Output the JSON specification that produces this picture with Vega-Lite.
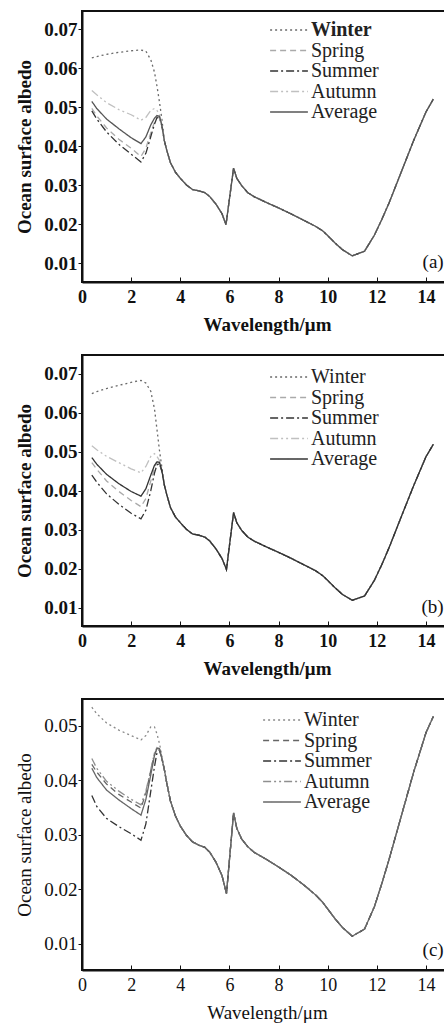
{
  "$schema": "https://vega.github.io/schema/vega-lite/v6.json",
  "padding": {"left": 14, "top": 10, "right": 0, "bottom": 0},
  "background": "white",
  "spacing": 19,
  "config": {
    "font": "Liberation Serif",
    "view": {"stroke": "#111", "strokeWidth": 2},
    "text": {"font": "Liberation Serif"},
    "axis": {"grid": false, "domainColor": "#111", "domainWidth": 2, "tickColor": "#111", "labelColor": "#111", "titleColor": "#111", "labelFont": "Liberation Serif", "titleFont": "Liberation Serif"},
    "axisX": {"tickSize": -5, "labelPadding": 11, "labelFlush": false, "labelFontSize": 18, "titleFontSize": 19, "titlePadding": 9},
    "axisY": {"tickSize": 4, "labelPadding": 1, "labelFontSize": 19, "titleFontSize": 19, "titlePadding": 9},
    "legend": {"labelFont": "Liberation Serif", "labelFontSize": 20, "labelColor": "#222", "symbolType": "M-2.1,0H2.1", "symbolSize": 324, "symbolStrokeWidth": 1.5, "rowPadding": 0.5, "labelOffset": 12}
  },
  "resolve": {"scale": {"x": "independent", "y": "independent", "color": "independent", "strokeDash": "independent"}, "legend": {"color": "independent", "strokeDash": "independent"}},
  "datasets": {
    "a": [
      {"x": 0.4, "Winter": 0.0627, "Spring": 0.0497, "Summer": 0.0491, "Autumn": 0.0543, "Average": 0.0515},
      {"x": 0.6, "Winter": 0.0630, "Spring": 0.0478, "Summer": 0.0470, "Autumn": 0.0532, "Average": 0.0497},
      {"x": 1.0, "Winter": 0.0636, "Spring": 0.0447, "Summer": 0.0437, "Autumn": 0.0512, "Average": 0.0470},
      {"x": 1.5, "Winter": 0.0641, "Spring": 0.0418, "Summer": 0.0405, "Autumn": 0.0494, "Average": 0.0445},
      {"x": 2.0, "Winter": 0.0645, "Spring": 0.0395, "Summer": 0.0380, "Autumn": 0.0481, "Average": 0.0422},
      {"x": 2.4, "Winter": 0.0647, "Spring": 0.0374, "Summer": 0.0360, "Autumn": 0.0467, "Average": 0.0407},
      {"x": 2.6, "Winter": 0.0644, "Spring": 0.0395, "Summer": 0.0382, "Autumn": 0.0474, "Average": 0.0424},
      {"x": 2.8, "Winter": 0.0622, "Spring": 0.0435, "Summer": 0.0425, "Autumn": 0.0492, "Average": 0.0455},
      {"x": 2.95, "Winter": 0.0590, "Spring": 0.0462, "Summer": 0.0457, "Autumn": 0.0497, "Average": 0.0472},
      {"x": 3.05, "Winter": 0.0555, "Spring": 0.0476, "Summer": 0.0473, "Autumn": 0.0492, "Average": 0.0479},
      {"x": 3.15, "Winter": 0.0515, "Spring": 0.0475, "Summer": 0.0474, "Autumn": 0.0482, "Average": 0.0477},
      {"x": 3.25, "Winter": 0.0470, "Spring": 0.0452, "Summer": 0.0452, "Autumn": 0.0458, "Average": 0.0455},
      {"x": 3.35, "Winter": 0.0415, "Spring": 0.0415, "Summer": 0.0415, "Autumn": 0.0415, "Average": 0.0415},
      {"x": 3.45, "Winter": 0.0390, "Spring": 0.0390, "Summer": 0.0390, "Autumn": 0.0390, "Average": 0.0390},
      {"x": 3.6, "Winter": 0.0358, "Spring": 0.0358, "Summer": 0.0358, "Autumn": 0.0358, "Average": 0.0358},
      {"x": 3.8, "Winter": 0.0334, "Spring": 0.0334, "Summer": 0.0334, "Autumn": 0.0334, "Average": 0.0334},
      {"x": 4.0, "Winter": 0.0318, "Spring": 0.0318, "Summer": 0.0318, "Autumn": 0.0318, "Average": 0.0318},
      {"x": 4.25, "Winter": 0.0301, "Spring": 0.0301, "Summer": 0.0301, "Autumn": 0.0301, "Average": 0.0301},
      {"x": 4.5, "Winter": 0.0289, "Spring": 0.0289, "Summer": 0.0289, "Autumn": 0.0289, "Average": 0.0289},
      {"x": 4.75, "Winter": 0.0286, "Spring": 0.0286, "Summer": 0.0286, "Autumn": 0.0286, "Average": 0.0286},
      {"x": 5.0, "Winter": 0.0281, "Spring": 0.0281, "Summer": 0.0281, "Autumn": 0.0281, "Average": 0.0281},
      {"x": 5.2, "Winter": 0.0271, "Spring": 0.0271, "Summer": 0.0271, "Autumn": 0.0271, "Average": 0.0271},
      {"x": 5.45, "Winter": 0.0252, "Spring": 0.0252, "Summer": 0.0252, "Autumn": 0.0252, "Average": 0.0252},
      {"x": 5.7, "Winter": 0.0227, "Spring": 0.0227, "Summer": 0.0227, "Autumn": 0.0227, "Average": 0.0227},
      {"x": 5.86, "Winter": 0.0199, "Spring": 0.0199, "Summer": 0.0199, "Autumn": 0.0199, "Average": 0.0199},
      {"x": 6.17, "Winter": 0.0344, "Spring": 0.0344, "Summer": 0.0344, "Autumn": 0.0344, "Average": 0.0344},
      {"x": 6.3, "Winter": 0.0318, "Spring": 0.0318, "Summer": 0.0318, "Autumn": 0.0318, "Average": 0.0318},
      {"x": 6.5, "Winter": 0.0299, "Spring": 0.0299, "Summer": 0.0299, "Autumn": 0.0299, "Average": 0.0299},
      {"x": 6.75, "Winter": 0.0281, "Spring": 0.0281, "Summer": 0.0281, "Autumn": 0.0281, "Average": 0.0281},
      {"x": 7.0, "Winter": 0.0271, "Spring": 0.0271, "Summer": 0.0271, "Autumn": 0.0271, "Average": 0.0271},
      {"x": 7.5, "Winter": 0.0256, "Spring": 0.0256, "Summer": 0.0256, "Autumn": 0.0256, "Average": 0.0256},
      {"x": 8.0, "Winter": 0.0242, "Spring": 0.0242, "Summer": 0.0242, "Autumn": 0.0242, "Average": 0.0242},
      {"x": 8.5, "Winter": 0.0227, "Spring": 0.0227, "Summer": 0.0227, "Autumn": 0.0227, "Average": 0.0227},
      {"x": 9.0, "Winter": 0.0211, "Spring": 0.0211, "Summer": 0.0211, "Autumn": 0.0211, "Average": 0.0211},
      {"x": 9.5, "Winter": 0.0195, "Spring": 0.0195, "Summer": 0.0195, "Autumn": 0.0195, "Average": 0.0195},
      {"x": 9.8, "Winter": 0.0183, "Spring": 0.0183, "Summer": 0.0183, "Autumn": 0.0183, "Average": 0.0183},
      {"x": 10.0, "Winter": 0.0171, "Spring": 0.0171, "Summer": 0.0171, "Autumn": 0.0171, "Average": 0.0171},
      {"x": 10.3, "Winter": 0.0152, "Spring": 0.0152, "Summer": 0.0152, "Autumn": 0.0152, "Average": 0.0152},
      {"x": 10.6, "Winter": 0.0135, "Spring": 0.0135, "Summer": 0.0135, "Autumn": 0.0135, "Average": 0.0135},
      {"x": 11.0, "Winter": 0.0119, "Spring": 0.0119, "Summer": 0.0119, "Autumn": 0.0119, "Average": 0.0119},
      {"x": 11.5, "Winter": 0.0131, "Spring": 0.0131, "Summer": 0.0131, "Autumn": 0.0131, "Average": 0.0131},
      {"x": 11.9, "Winter": 0.0172, "Spring": 0.0172, "Summer": 0.0172, "Autumn": 0.0172, "Average": 0.0172},
      {"x": 12.2, "Winter": 0.0212, "Spring": 0.0212, "Summer": 0.0212, "Autumn": 0.0212, "Average": 0.0212},
      {"x": 12.5, "Winter": 0.0255, "Spring": 0.0255, "Summer": 0.0255, "Autumn": 0.0255, "Average": 0.0255},
      {"x": 13.0, "Winter": 0.0335, "Spring": 0.0335, "Summer": 0.0335, "Autumn": 0.0335, "Average": 0.0335},
      {"x": 13.5, "Winter": 0.0415, "Spring": 0.0415, "Summer": 0.0415, "Autumn": 0.0415, "Average": 0.0415},
      {"x": 14.0, "Winter": 0.0488, "Spring": 0.0488, "Summer": 0.0488, "Autumn": 0.0488, "Average": 0.0488},
      {"x": 14.3, "Winter": 0.0521, "Spring": 0.0521, "Summer": 0.0521, "Autumn": 0.0521, "Average": 0.0521}
    ],
    "b": [
      {"x": 0.4, "Winter": 0.0649, "Spring": 0.0472, "Summer": 0.0440, "Autumn": 0.0515, "Average": 0.0485},
      {"x": 0.6, "Winter": 0.0654, "Spring": 0.0455, "Summer": 0.0422, "Autumn": 0.0505, "Average": 0.0468},
      {"x": 1.0, "Winter": 0.0662, "Spring": 0.0425, "Summer": 0.0392, "Autumn": 0.0488, "Average": 0.0442},
      {"x": 1.5, "Winter": 0.0670, "Spring": 0.0398, "Summer": 0.0365, "Autumn": 0.0472, "Average": 0.0418},
      {"x": 2.0, "Winter": 0.0678, "Spring": 0.0375, "Summer": 0.0342, "Autumn": 0.0456, "Average": 0.0398},
      {"x": 2.4, "Winter": 0.0683, "Spring": 0.0359, "Summer": 0.0328, "Autumn": 0.0446, "Average": 0.0386},
      {"x": 2.6, "Winter": 0.0676, "Spring": 0.0380, "Summer": 0.0350, "Autumn": 0.0462, "Average": 0.0405},
      {"x": 2.8, "Winter": 0.0655, "Spring": 0.0425, "Summer": 0.0400, "Autumn": 0.0488, "Average": 0.0440},
      {"x": 2.95, "Winter": 0.0610, "Spring": 0.0458, "Summer": 0.0445, "Autumn": 0.0495, "Average": 0.0465},
      {"x": 3.05, "Winter": 0.0558, "Spring": 0.0472, "Summer": 0.0466, "Autumn": 0.0488, "Average": 0.0474},
      {"x": 3.15, "Winter": 0.0505, "Spring": 0.0472, "Summer": 0.0470, "Autumn": 0.0478, "Average": 0.0473},
      {"x": 3.25, "Winter": 0.0460, "Spring": 0.0450, "Summer": 0.0450, "Autumn": 0.0455, "Average": 0.0452},
      {"x": 3.35, "Winter": 0.0415, "Spring": 0.0415, "Summer": 0.0415, "Autumn": 0.0415, "Average": 0.0415},
      {"x": 3.45, "Winter": 0.0390, "Spring": 0.0390, "Summer": 0.0390, "Autumn": 0.0390, "Average": 0.0390},
      {"x": 3.6, "Winter": 0.0357, "Spring": 0.0357, "Summer": 0.0357, "Autumn": 0.0357, "Average": 0.0357},
      {"x": 3.8, "Winter": 0.0333, "Spring": 0.0333, "Summer": 0.0333, "Autumn": 0.0333, "Average": 0.0333},
      {"x": 4.0, "Winter": 0.0318, "Spring": 0.0318, "Summer": 0.0318, "Autumn": 0.0318, "Average": 0.0318},
      {"x": 4.25, "Winter": 0.0301, "Spring": 0.0301, "Summer": 0.0301, "Autumn": 0.0301, "Average": 0.0301},
      {"x": 4.5, "Winter": 0.0289, "Spring": 0.0289, "Summer": 0.0289, "Autumn": 0.0289, "Average": 0.0289},
      {"x": 4.75, "Winter": 0.0286, "Spring": 0.0286, "Summer": 0.0286, "Autumn": 0.0286, "Average": 0.0286},
      {"x": 5.0, "Winter": 0.0281, "Spring": 0.0281, "Summer": 0.0281, "Autumn": 0.0281, "Average": 0.0281},
      {"x": 5.2, "Winter": 0.0271, "Spring": 0.0271, "Summer": 0.0271, "Autumn": 0.0271, "Average": 0.0271},
      {"x": 5.45, "Winter": 0.0251, "Spring": 0.0251, "Summer": 0.0251, "Autumn": 0.0251, "Average": 0.0251},
      {"x": 5.7, "Winter": 0.0226, "Spring": 0.0226, "Summer": 0.0226, "Autumn": 0.0226, "Average": 0.0226},
      {"x": 5.88, "Winter": 0.0198, "Spring": 0.0198, "Summer": 0.0198, "Autumn": 0.0198, "Average": 0.0198},
      {"x": 6.17, "Winter": 0.0344, "Spring": 0.0344, "Summer": 0.0344, "Autumn": 0.0344, "Average": 0.0344},
      {"x": 6.3, "Winter": 0.0318, "Spring": 0.0318, "Summer": 0.0318, "Autumn": 0.0318, "Average": 0.0318},
      {"x": 6.5, "Winter": 0.0298, "Spring": 0.0298, "Summer": 0.0298, "Autumn": 0.0298, "Average": 0.0298},
      {"x": 6.75, "Winter": 0.0281, "Spring": 0.0281, "Summer": 0.0281, "Autumn": 0.0281, "Average": 0.0281},
      {"x": 7.0, "Winter": 0.0271, "Spring": 0.0271, "Summer": 0.0271, "Autumn": 0.0271, "Average": 0.0271},
      {"x": 7.5, "Winter": 0.0256, "Spring": 0.0256, "Summer": 0.0256, "Autumn": 0.0256, "Average": 0.0256},
      {"x": 8.0, "Winter": 0.0242, "Spring": 0.0242, "Summer": 0.0242, "Autumn": 0.0242, "Average": 0.0242},
      {"x": 8.5, "Winter": 0.0227, "Spring": 0.0227, "Summer": 0.0227, "Autumn": 0.0227, "Average": 0.0227},
      {"x": 9.0, "Winter": 0.0211, "Spring": 0.0211, "Summer": 0.0211, "Autumn": 0.0211, "Average": 0.0211},
      {"x": 9.5, "Winter": 0.0195, "Spring": 0.0195, "Summer": 0.0195, "Autumn": 0.0195, "Average": 0.0195},
      {"x": 9.8, "Winter": 0.0182, "Spring": 0.0182, "Summer": 0.0182, "Autumn": 0.0182, "Average": 0.0182},
      {"x": 10.0, "Winter": 0.0170, "Spring": 0.0170, "Summer": 0.0170, "Autumn": 0.0170, "Average": 0.0170},
      {"x": 10.3, "Winter": 0.0151, "Spring": 0.0151, "Summer": 0.0151, "Autumn": 0.0151, "Average": 0.0151},
      {"x": 10.6, "Winter": 0.0134, "Spring": 0.0134, "Summer": 0.0134, "Autumn": 0.0134, "Average": 0.0134},
      {"x": 11.0, "Winter": 0.0119, "Spring": 0.0119, "Summer": 0.0119, "Autumn": 0.0119, "Average": 0.0119},
      {"x": 11.5, "Winter": 0.0130, "Spring": 0.0130, "Summer": 0.0130, "Autumn": 0.0130, "Average": 0.0130},
      {"x": 11.9, "Winter": 0.0170, "Spring": 0.0170, "Summer": 0.0170, "Autumn": 0.0170, "Average": 0.0170},
      {"x": 12.2, "Winter": 0.0210, "Spring": 0.0210, "Summer": 0.0210, "Autumn": 0.0210, "Average": 0.0210},
      {"x": 12.5, "Winter": 0.0254, "Spring": 0.0254, "Summer": 0.0254, "Autumn": 0.0254, "Average": 0.0254},
      {"x": 13.0, "Winter": 0.0334, "Spring": 0.0334, "Summer": 0.0334, "Autumn": 0.0334, "Average": 0.0334},
      {"x": 13.5, "Winter": 0.0413, "Spring": 0.0413, "Summer": 0.0413, "Autumn": 0.0413, "Average": 0.0413},
      {"x": 14.0, "Winter": 0.0487, "Spring": 0.0487, "Summer": 0.0487, "Autumn": 0.0487, "Average": 0.0487},
      {"x": 14.3, "Winter": 0.0519, "Spring": 0.0519, "Summer": 0.0519, "Autumn": 0.0519, "Average": 0.0519}
    ],
    "c": [
      {"x": 0.4, "Winter": 0.0534, "Spring": 0.0429, "Summer": 0.0372, "Autumn": 0.0440, "Average": 0.0422},
      {"x": 0.6, "Winter": 0.0522, "Spring": 0.0415, "Summer": 0.0352, "Autumn": 0.0422, "Average": 0.0405},
      {"x": 1.0, "Winter": 0.0505, "Spring": 0.0393, "Summer": 0.0330, "Autumn": 0.0398, "Average": 0.0382},
      {"x": 1.5, "Winter": 0.0492, "Spring": 0.0374, "Summer": 0.0315, "Autumn": 0.0380, "Average": 0.0364},
      {"x": 2.0, "Winter": 0.0482, "Spring": 0.0360, "Summer": 0.0302, "Autumn": 0.0365, "Average": 0.0348},
      {"x": 2.4, "Winter": 0.0474, "Spring": 0.0349, "Summer": 0.0290, "Autumn": 0.0355, "Average": 0.0336},
      {"x": 2.6, "Winter": 0.0482, "Spring": 0.0376, "Summer": 0.0320, "Autumn": 0.0380, "Average": 0.0365},
      {"x": 2.8, "Winter": 0.0498, "Spring": 0.0418, "Summer": 0.0380, "Autumn": 0.0420, "Average": 0.0410},
      {"x": 2.95, "Winter": 0.0498, "Spring": 0.0448, "Summer": 0.0425, "Autumn": 0.0450, "Average": 0.0445},
      {"x": 3.05, "Winter": 0.0485, "Spring": 0.0459, "Summer": 0.0450, "Autumn": 0.0460, "Average": 0.0458},
      {"x": 3.15, "Winter": 0.0468, "Spring": 0.0458, "Summer": 0.0456, "Autumn": 0.0458, "Average": 0.0458},
      {"x": 3.25, "Winter": 0.0445, "Spring": 0.0440, "Summer": 0.0440, "Autumn": 0.0440, "Average": 0.0440},
      {"x": 3.35, "Winter": 0.0420, "Spring": 0.0420, "Summer": 0.0420, "Autumn": 0.0420, "Average": 0.0420},
      {"x": 3.45, "Winter": 0.0395, "Spring": 0.0395, "Summer": 0.0395, "Autumn": 0.0395, "Average": 0.0395},
      {"x": 3.6, "Winter": 0.0362, "Spring": 0.0362, "Summer": 0.0362, "Autumn": 0.0362, "Average": 0.0362},
      {"x": 3.8, "Winter": 0.0335, "Spring": 0.0335, "Summer": 0.0335, "Autumn": 0.0335, "Average": 0.0335},
      {"x": 4.0, "Winter": 0.0316, "Spring": 0.0316, "Summer": 0.0316, "Autumn": 0.0316, "Average": 0.0316},
      {"x": 4.25, "Winter": 0.0299, "Spring": 0.0299, "Summer": 0.0299, "Autumn": 0.0299, "Average": 0.0299},
      {"x": 4.5, "Winter": 0.0287, "Spring": 0.0287, "Summer": 0.0287, "Autumn": 0.0287, "Average": 0.0287},
      {"x": 4.75, "Winter": 0.0281, "Spring": 0.0281, "Summer": 0.0281, "Autumn": 0.0281, "Average": 0.0281},
      {"x": 5.0, "Winter": 0.0277, "Spring": 0.0277, "Summer": 0.0277, "Autumn": 0.0277, "Average": 0.0277},
      {"x": 5.2, "Winter": 0.0268, "Spring": 0.0268, "Summer": 0.0268, "Autumn": 0.0268, "Average": 0.0268},
      {"x": 5.45, "Winter": 0.0250, "Spring": 0.0250, "Summer": 0.0250, "Autumn": 0.0250, "Average": 0.0250},
      {"x": 5.7, "Winter": 0.0225, "Spring": 0.0225, "Summer": 0.0225, "Autumn": 0.0225, "Average": 0.0225},
      {"x": 5.88, "Winter": 0.0192, "Spring": 0.0192, "Summer": 0.0192, "Autumn": 0.0192, "Average": 0.0192},
      {"x": 6.17, "Winter": 0.0340, "Spring": 0.0340, "Summer": 0.0340, "Autumn": 0.0340, "Average": 0.0340},
      {"x": 6.3, "Winter": 0.0312, "Spring": 0.0312, "Summer": 0.0312, "Autumn": 0.0312, "Average": 0.0312},
      {"x": 6.5, "Winter": 0.0292, "Spring": 0.0292, "Summer": 0.0292, "Autumn": 0.0292, "Average": 0.0292},
      {"x": 6.75, "Winter": 0.0278, "Spring": 0.0278, "Summer": 0.0278, "Autumn": 0.0278, "Average": 0.0278},
      {"x": 7.0, "Winter": 0.0268, "Spring": 0.0268, "Summer": 0.0268, "Autumn": 0.0268, "Average": 0.0268},
      {"x": 7.5, "Winter": 0.0255, "Spring": 0.0255, "Summer": 0.0255, "Autumn": 0.0255, "Average": 0.0255},
      {"x": 8.0, "Winter": 0.0241, "Spring": 0.0241, "Summer": 0.0241, "Autumn": 0.0241, "Average": 0.0241},
      {"x": 8.5, "Winter": 0.0226, "Spring": 0.0226, "Summer": 0.0226, "Autumn": 0.0226, "Average": 0.0226},
      {"x": 9.0, "Winter": 0.0209, "Spring": 0.0209, "Summer": 0.0209, "Autumn": 0.0209, "Average": 0.0209},
      {"x": 9.5, "Winter": 0.0190, "Spring": 0.0190, "Summer": 0.0190, "Autumn": 0.0190, "Average": 0.0190},
      {"x": 9.8, "Winter": 0.0176, "Spring": 0.0176, "Summer": 0.0176, "Autumn": 0.0176, "Average": 0.0176},
      {"x": 10.0, "Winter": 0.0164, "Spring": 0.0164, "Summer": 0.0164, "Autumn": 0.0164, "Average": 0.0164},
      {"x": 10.3, "Winter": 0.0146, "Spring": 0.0146, "Summer": 0.0146, "Autumn": 0.0146, "Average": 0.0146},
      {"x": 10.6, "Winter": 0.0130, "Spring": 0.0130, "Summer": 0.0130, "Autumn": 0.0130, "Average": 0.0130},
      {"x": 11.0, "Winter": 0.0114, "Spring": 0.0114, "Summer": 0.0114, "Autumn": 0.0114, "Average": 0.0114},
      {"x": 11.5, "Winter": 0.0127, "Spring": 0.0127, "Summer": 0.0127, "Autumn": 0.0127, "Average": 0.0127},
      {"x": 11.9, "Winter": 0.0168, "Spring": 0.0168, "Summer": 0.0168, "Autumn": 0.0168, "Average": 0.0168},
      {"x": 12.2, "Winter": 0.0210, "Spring": 0.0210, "Summer": 0.0210, "Autumn": 0.0210, "Average": 0.0210},
      {"x": 12.5, "Winter": 0.0255, "Spring": 0.0255, "Summer": 0.0255, "Autumn": 0.0255, "Average": 0.0255},
      {"x": 13.0, "Winter": 0.0335, "Spring": 0.0335, "Summer": 0.0335, "Autumn": 0.0335, "Average": 0.0335},
      {"x": 13.5, "Winter": 0.0415, "Spring": 0.0415, "Summer": 0.0415, "Autumn": 0.0415, "Average": 0.0415},
      {"x": 14.0, "Winter": 0.0487, "Spring": 0.0487, "Summer": 0.0487, "Autumn": 0.0487, "Average": 0.0487},
      {"x": 14.3, "Winter": 0.0517, "Spring": 0.0517, "Summer": 0.0517, "Autumn": 0.0517, "Average": 0.0517}
    ]
  },
  "vconcat": [
    {
      "width": 370, "height": 271,
      "layer": [
        {
          "data": {"name": "a"},
          "transform": [{"fold": ["Winter", "Spring", "Summer", "Autumn", "Average"], "as": ["s", "y"]}],
          "mark": {"type": "line", "strokeWidth": 1.3, "clip": true},
          "encoding": {
            "x": {"field": "x", "type": "quantitative", "scale": {"domain": [0, 15.06], "nice": false}, "axis": {"values": [0, 2, 4, 6, 8, 10, 12, 14], "title": "Wavelength/μm", "labelFontWeight": "bold", "titleFontWeight": "bold"}},
            "y": {"field": "y", "type": "quantitative", "scale": {"domain": [0.0052, 0.0747], "nice": false, "zero": false}, "axis": {"values": [0.01, 0.02, 0.03, 0.04, 0.05, 0.06, 0.07], "format": ".2f", "title": "Ocean  surface  albedo", "labelFontWeight": "bold", "titleFontWeight": "bold"}},
            "color": {"field": "s", "type": "nominal", "scale": {"domain": ["Winter", "Spring", "Summer", "Autumn", "Average"], "range": ["#6a6a6a", "#aaaaaa", "#333333", "#c0c0c0", "#555555"]}, "legend": {"title": null, "orient": "none", "legendX": 197, "legendY": 9, "encode": {"labels": {"update": {"fontWeight": {"signal": "datum.label === 'Winter' ? 'bold' : 'normal'"}}}}}},
            "strokeDash": {"field": "s", "type": "nominal", "scale": {"domain": ["Winter", "Spring", "Summer", "Autumn", "Average"], "range": [[2, 3], [6, 4], [8, 3, 2, 3], [8, 3, 2, 3, 2, 3], [1, 0]]}, "legend": {"title": null, "orient": "none", "legendX": 197, "legendY": 9, "encode": {"labels": {"update": {"fontWeight": {"signal": "datum.label === 'Winter' ? 'bold' : 'normal'"}}}}}}
          }
        },
        {
          "data": {"values": [{"label": "(a)"}]},
          "mark": {"type": "text", "align": "right", "baseline": "middle", "fontSize": 19, "font": "Liberation Serif", "color": "#111"},
          "encoding": {"text": {"field": "label"}, "x": {"datum": 14.72}, "y": {"datum": 0.0104}}
        }
      ]
    },
    {
      "width": 370, "height": 271,
      "layer": [
        {
          "data": {"name": "b"},
          "transform": [{"fold": ["Winter", "Spring", "Summer", "Autumn", "Average"], "as": ["s", "y"]}],
          "mark": {"type": "line", "strokeWidth": 1.3, "clip": true},
          "encoding": {
            "x": {"field": "x", "type": "quantitative", "scale": {"domain": [0, 15.06], "nice": false}, "axis": {"values": [0, 2, 4, 6, 8, 10, 12, 14], "title": "Wavelength/μm", "labelFontWeight": "bold", "titleFontWeight": "bold"}},
            "y": {"field": "y", "type": "quantitative", "scale": {"domain": [0.0053, 0.0748], "nice": false, "zero": false}, "axis": {"values": [0.01, 0.02, 0.03, 0.04, 0.05, 0.06, 0.07], "format": ".2f", "title": "Ocean  surface  albedo", "labelFontWeight": "bold", "titleFontWeight": "bold"}},
            "color": {"field": "s", "type": "nominal", "scale": {"domain": ["Winter", "Spring", "Summer", "Autumn", "Average"], "range": ["#6a6a6a", "#aaaaaa", "#333333", "#c0c0c0", "#333333"]}, "legend": {"title": null, "orient": "none", "legendX": 197, "legendY": 12}},
            "strokeDash": {"field": "s", "type": "nominal", "scale": {"domain": ["Winter", "Spring", "Summer", "Autumn", "Average"], "range": [[2, 3], [6, 4], [8, 3, 2, 3], [8, 3, 2, 3, 2, 3], [1, 0]]}, "legend": {"title": null, "orient": "none", "legendX": 197, "legendY": 12}}
          }
        },
        {
          "data": {"values": [{"label": "(b)"}]},
          "mark": {"type": "text", "align": "right", "baseline": "middle", "fontSize": 19, "font": "Liberation Serif", "color": "#111"},
          "encoding": {"text": {"field": "label"}, "x": {"datum": 14.72}, "y": {"datum": 0.0102}}
        }
      ]
    },
    {
      "width": 370, "height": 271,
      "layer": [
        {
          "data": {"name": "c"},
          "transform": [{"fold": ["Winter", "Spring", "Summer", "Autumn", "Average"], "as": ["s", "y"]}],
          "mark": {"type": "line", "strokeWidth": 1.3, "clip": true},
          "encoding": {
            "x": {"field": "x", "type": "quantitative", "scale": {"domain": [0, 15.06], "nice": false}, "axis": {"values": [0, 2, 4, 6, 8, 10, 12, 14], "title": "Wavelength/μm", "labelFontWeight": "normal", "titleFontWeight": "normal"}},
            "y": {"field": "y", "type": "quantitative", "scale": {"domain": [0.0052, 0.0549], "nice": false, "zero": false}, "axis": {"values": [0.01, 0.02, 0.03, 0.04, 0.05], "format": ".2f", "title": "Ocean  surface  albedo", "labelFontWeight": "normal", "titleFontWeight": "normal"}},
            "color": {"field": "s", "type": "nominal", "scale": {"domain": ["Winter", "Spring", "Summer", "Autumn", "Average"], "range": ["#8a8a8a", "#666666", "#333333", "#8f8f8f", "#666666"]}, "legend": {"title": null, "orient": "none", "legendX": 190, "legendY": 11}},
            "strokeDash": {"field": "s", "type": "nominal", "scale": {"domain": ["Winter", "Spring", "Summer", "Autumn", "Average"], "range": [[2, 3], [6, 4], [8, 3, 2, 3], [8, 3, 2, 3, 2, 3], [1, 0]]}, "legend": {"title": null, "orient": "none", "legendX": 190, "legendY": 11}}
          }
        },
        {
          "data": {"values": [{"label": "(c)"}]},
          "mark": {"type": "text", "align": "right", "baseline": "middle", "fontSize": 19, "font": "Liberation Serif", "color": "#111"},
          "encoding": {"text": {"field": "label"}, "x": {"datum": 14.72}, "y": {"datum": 0.0088}}
        }
      ]
    }
  ]
}
